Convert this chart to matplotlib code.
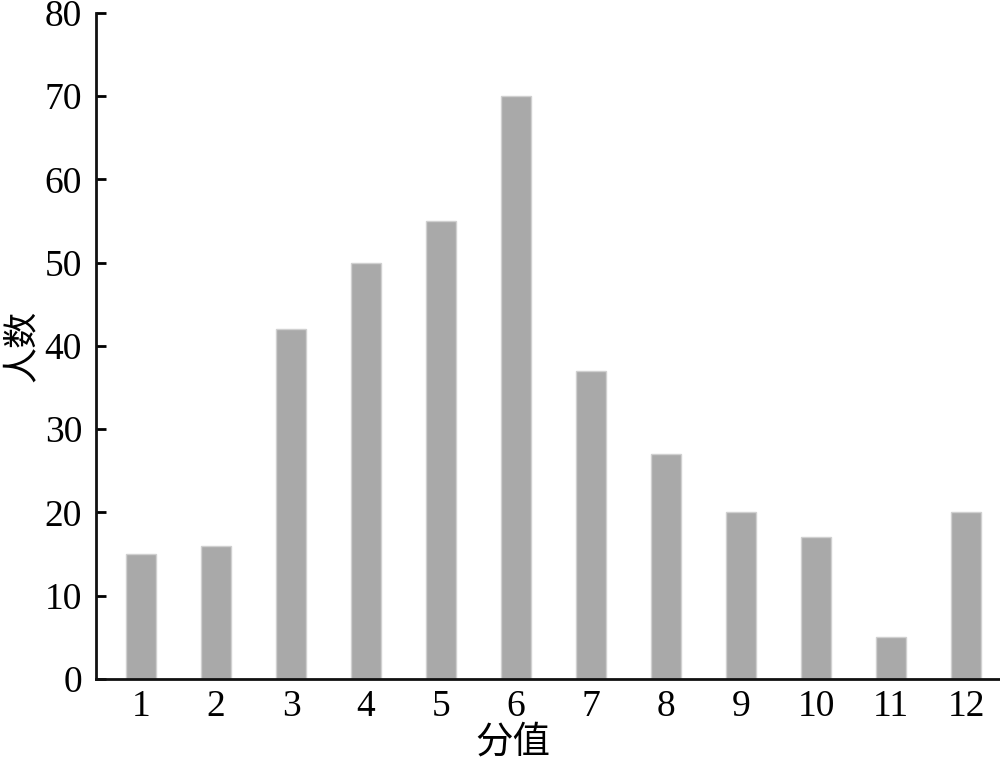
import matplotlib.pyplot as plt

scores = [1, 2, 3, 4, 5, 6, 7, 8, 9, 10, 11, 12]
counts = [15, 16, 42, 50, 55, 70, 37, 27, 20, 17, 5, 20]
yticks = [0, 10, 20, 30, 40, 50, 60, 70, 80]

plt.rcParams['font.family'] = ['Liberation Serif', 'Noto Sans CJK SC']

fig = plt.figure(figsize=(10, 7.61), dpi=100)
ax = fig.add_axes([0.096, 0.108, 0.904, 0.875])

ax.bar(scores, counts, width=0.4, color='#a9a9a9', edgecolor='#d0d0d0', linewidth=1)

ax.set_xlim(0.4, 12.45)
ax.set_ylim(0, 80)
ax.set_yticks(yticks)
ax.set_xticks(scores)

for s in ['top', 'right']:
    ax.spines[s].set_visible(False)
for s in ['left', 'bottom']:
    ax.spines[s].set_linewidth(2)
    ax.spines[s].set_color('#111111')

ax.tick_params(axis='y', direction='in', length=7, width=2, labelsize=27, pad=10)
ax.tick_params(axis='x', length=0, labelsize=27, pad=8)

ax.set_xlabel('分值', fontsize=27, family=['Noto Sans CJK SC'])
ax.xaxis.set_label_coords(0.461, -0.065)
ax.set_ylabel('人数', fontsize=26, family=['Noto Sans CJK SC'])
ax.yaxis.set_label_coords(-0.062, 0.5)

fig.savefig('out.png', dpi=100)
